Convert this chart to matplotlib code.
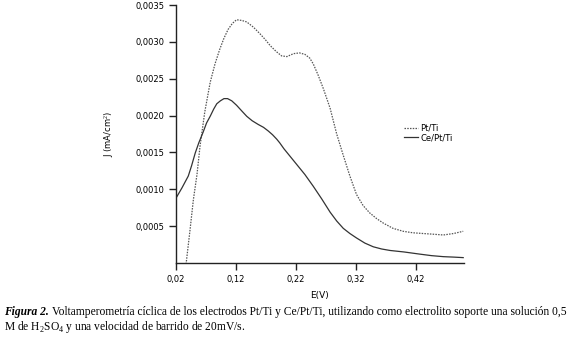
import matplotlib.pyplot as plt
import matplotlib

matplotlib.rcParams['mathtext.fontset'] = 'custom'
matplotlib.rcParams['mathtext.rm'] = 'Liberation Serif'

# Pt/Ti (dotted)
e_pt = [0.033, 0.037, 0.043, 0.049, 0.055, 0.060, 0.068, 0.077, 0.085, 0.093, 0.100, 0.107,
        0.114, 0.121, 0.130, 0.138, 0.149, 0.160, 0.169, 0.177, 0.187, 0.196, 0.205, 0.216,
        0.226, 0.235, 0.243, 0.249, 0.257, 0.266, 0.277, 0.288, 0.299, 0.310, 0.321, 0.332,
        0.343, 0.355, 0.366, 0.382, 0.399, 0.415, 0.432, 0.450, 0.466, 0.483, 0.499]
j_pt = [-0.0002, 0.0, 0.00042, 0.00086, 0.0012, 0.00158, 0.00205, 0.00245, 0.0027, 0.0029,
        0.00305, 0.00317, 0.00325, 0.0033, 0.00329, 0.00327, 0.0032, 0.00311, 0.00303, 0.00295,
        0.00287, 0.00281, 0.0028, 0.00284, 0.00285, 0.00283, 0.00278, 0.0027, 0.00255, 0.00236,
        0.0021, 0.00175, 0.00146, 0.00118, 0.00093, 0.00078, 0.00068, 0.0006, 0.00054, 0.00047,
        0.00043, 0.00041, 0.0004, 0.00039, 0.00038, 0.0004, 0.00043]

# Ce/Pt/Ti (solid)
e_ce = [0.020, 0.030, 0.0405, 0.046, 0.052, 0.058, 0.065, 0.071, 0.077, 0.083, 0.088, 0.094,
        0.100, 0.106, 0.113, 0.121, 0.130, 0.138, 0.147, 0.157, 0.166, 0.174, 0.181, 0.188,
        0.193, 0.200, 0.210, 0.221, 0.235, 0.249, 0.263, 0.277, 0.288, 0.299, 0.310, 0.321,
        0.335, 0.349, 0.363, 0.377, 0.400, 0.427, 0.446, 0.466, 0.483, 0.499]
j_ce = [0.00088, 0.00102, 0.00118, 0.00132, 0.00149, 0.00163, 0.00177, 0.00190, 0.00199,
        0.00209, 0.00216, 0.0022, 0.00223, 0.00223, 0.0022, 0.00214, 0.00206, 0.00199, 0.00193,
        0.00188, 0.00184, 0.00179, 0.00174, 0.00168, 0.00163, 0.00155, 0.00145, 0.00134,
        0.0012, 0.00104, 0.00087, 0.00069, 0.00057, 0.00047, 0.0004, 0.00034, 0.00027, 0.00022,
        0.00019, 0.00017, 0.00015, 0.00012, 0.0001, 0.000086, 0.00008, 0.000073]

x_ticks = [0.02, 0.12, 0.22, 0.32, 0.42]
y_ticks = [0.0005, 0.0010, 0.0015, 0.0020, 0.0025, 0.0030, 0.0035]

fig = plt.figure(figsize=(5.74, 3.37), dpi=100)
ax = fig.add_axes([176/574, 1 - 263/337, (463.5 - 176)/574, (263 - 5)/337])

ax.plot(e_pt, j_pt, color='#555555', linestyle=(0, (1.2, 1.0)), linewidth=0.9, label='Pt/Ti')
ax.plot(e_ce, j_ce, color='#333333', linestyle='-', linewidth=0.9, label='Ce/Pt/Ti')

ax.set_xlim(0.02, 0.4995)
ax.set_ylim(0, 0.0035)
ax.set_xticks(x_ticks)
ax.set_xticklabels([('%.2f' % v).replace('.', ',') for v in x_ticks])
ax.set_yticks(y_ticks)
ax.set_yticklabels([('%.4f' % v).replace('.', ',') for v in y_ticks])
ax.spines['top'].set_visible(False)
ax.spines['right'].set_visible(False)
for s in ['left', 'bottom']:
    ax.spines[s].set_linewidth(1.0)
    ax.spines[s].set_color('#222222')
ax.tick_params(direction='out', length=5, width=1.0, color='#222222', labelsize=6, pad=3.5)
ax.set_xlabel('E(V)', fontsize=6.5, labelpad=5)
ax.set_ylabel('J (mA/cm$^2$)', fontsize=6, labelpad=14)

ax.legend(loc='upper left', bbox_to_anchor=(0.78, 0.557), frameon=False, fontsize=6,
          handlelength=1.6, handletextpad=0.3, labelspacing=0.1, borderpad=0)

# caption
r = fig.canvas.get_renderer()
t1 = fig.text(4/574, 1 - 315/337, 'Figura 2.', fontfamily='Liberation Serif', fontsize=8.3,
              fontweight='bold', fontstyle='italic', va='baseline')
bb = t1.get_window_extent(renderer=r)
fig.text(bb.x1 / fig.bbox.width + 0.005, 1 - 315/337,
         'Voltamperometría cíclica de los electrodos Pt/Ti y Ce/Pt/Ti, utilizando como electrolito soporte una solución 0,5',
         fontfamily='Liberation Serif', fontsize=8.3, va='baseline')
fig.text(4/574, 1 - 330/337, 'M de H$_2$SO$_4$ y una velocidad de barrido de 20mV/s.',
         fontfamily='Liberation Serif', fontsize=8.3, va='baseline')

fig.savefig('out.png', dpi=100)
